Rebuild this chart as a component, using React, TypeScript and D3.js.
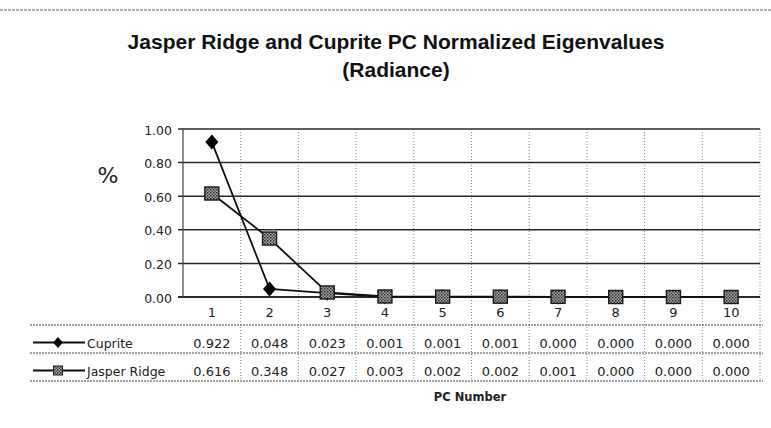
import React from 'react';
import * as d3 from 'd3';

const categories = ['1', '2', '3', '4', '5', '6', '7', '8', '9', '10'];
const cupriteValues = [0.922, 0.048, 0.023, 0.001, 0.001, 0.001, 0.0, 0.0, 0.0, 0.0];
const jasperValues = [0.616, 0.348, 0.027, 0.003, 0.002, 0.002, 0.001, 0.0, 0.0, 0.0];
const cupriteLabels = ['0.922', '0.048', '0.023', '0.001', '0.001', '0.001', '0.000', '0.000', '0.000', '0.000'];
const jasperLabels = ['0.616', '0.348', '0.027', '0.003', '0.002', '0.002', '0.001', '0.000', '0.000', '0.000'];
const yTicks = [0, 0.2, 0.4, 0.6, 0.8, 1.0];
const seriesNames = ['Cuprite', 'Jasper Ridge'];

const W = 771;
const H = 428;
const PLOT = { left: 183, right: 760, top: 129, bottom: 297 };
const TABLE = { left: 30, right: 763, header: 325, sep: 353, bottom: 381, row1: 342.5, row2: 370.5 };

const FONT = '"DejaVu Sans", Verdana, sans-serif';

export default function App() {
  const x = d3.scaleBand<string>().domain(categories).range([PLOT.left, PLOT.right]).padding(0);
  const y = d3.scaleLinear().domain([0, 1]).range([PLOT.bottom, PLOT.top]);
  const cx = (c: string) => (x(c) as number) + x.bandwidth() / 2;

  const line = d3
    .line<number>()
    .x((_, i) => cx(categories[i]))
    .y((d) => y(d));

  const diamond = (s: number) => `M0,${-s}L${s * 0.87},0L0,${s}L${-s * 0.87},0Z`;

  const boundaries = categories.slice(1).map((c) => x(c) as number);

  return (
    <svg
      width={W}
      height={H}
      style={{ position: 'absolute', left: 0, top: 0, background: '#fff' }}
      xmlns="http://www.w3.org/2000/svg"
    >
      <defs>
        <pattern id="hatch" width="3" height="3" patternUnits="userSpaceOnUse">
          <rect width="3" height="3" fill="#a8a8a8" />
          <rect width="1.5" height="1.5" fill="#2a2a2a" />
          <rect x="1.5" y="1.5" width="1.5" height="1.5" fill="#4a4a4a" />
        </pattern>
      </defs>

      {/* top scan border */}
      <line x1={0} x2={W} y1={10} y2={10} stroke="#666" strokeWidth={1} strokeDasharray="3,1" />

      {/* title */}
      <text
        x={396}
        y={49}
        textAnchor="middle"
        fontFamily='"Liberation Sans", Arial, sans-serif'
        fontWeight="bold"
        fontSize={21}
        fill="#111"
      >
        Jasper Ridge and Cuprite PC Normalized Eigenvalues
      </text>
      <text
        x={396}
        y={77}
        textAnchor="middle"
        fontFamily='"Liberation Sans", Arial, sans-serif'
        fontWeight="bold"
        fontSize={21}
        fill="#111"
      >
        (Radiance)
      </text>

      {/* % axis label */}
      <text x={108} y={183} textAnchor="middle" fontFamily={FONT} fontSize={22} fill="#222">
        %
      </text>

      {/* vertical gridlines (band boundaries), extended through the data table */}
      {boundaries.map((bx, i) => (
        <line
          key={'vg' + i}
          x1={bx}
          x2={bx}
          y1={PLOT.top}
          y2={TABLE.bottom}
          stroke="#8a8a8a"
          strokeWidth={1}
          strokeDasharray="1,2"
        />
      ))}
      <line
        x1={PLOT.right}
        x2={PLOT.right}
        y1={PLOT.top}
        y2={TABLE.bottom}
        stroke="#8a8a8a"
        strokeWidth={1}
        strokeDasharray="1,2"
      />

      {/* horizontal gridlines and y ticks */}
      {yTicks.map((t) => (
        <g key={'yt' + t}>
          <line
            x1={PLOT.left - 5}
            x2={PLOT.right}
            y1={y(t)}
            y2={y(t)}
            stroke="#2a2a2a"
            strokeWidth={t === 0 ? 2 : 1.5}
          />
          <text
            x={172}
            y={y(t) + 1}
            textAnchor="end"
            dominantBaseline="central"
            fontFamily={FONT}
            fontSize={12.5}
            fill="#222"
          >
            {t.toFixed(2)}
          </text>
        </g>
      ))}

      {/* y axis */}
      <line x1={PLOT.left} x2={PLOT.left} y1={PLOT.top} y2={PLOT.bottom} stroke="#444" strokeWidth={1.2} />

      {/* x category labels */}
      {categories.map((c) => (
        <text
          key={'xl' + c}
          x={cx(c)}
          y={312}
          textAnchor="middle"
          dominantBaseline="central"
          fontFamily={FONT}
          fontSize={13}
          fill="#222"
        >
          {c}
        </text>
      ))}

      {/* series lines */}
      <path d={line(jasperValues) || ''} fill="none" stroke="#111" strokeWidth={1.8} />
      <path d={line(cupriteValues) || ''} fill="none" stroke="#111" strokeWidth={1.8} />

      {/* markers */}
      {cupriteValues.map((v, i) => (
        <path
          key={'cm' + i}
          d={diamond(7.5)}
          transform={`translate(${cx(categories[i])},${y(v)})`}
          fill="#000"
        />
      ))}
      {jasperValues.map((v, i) => (
        <rect
          key={'jm' + i}
          x={cx(categories[i]) - 7}
          y={y(v) - 6.5}
          width={14}
          height={13}
          fill="url(#hatch)"
          stroke="#1a1a1a"
          strokeWidth={1.4}
        />
      ))}

      {/* data table lines */}
      {[TABLE.header, TABLE.sep, TABLE.bottom].map((ty, i) => (
        <line
          key={'th' + i}
          x1={TABLE.left}
          x2={TABLE.right}
          y1={ty}
          y2={ty}
          stroke="#444"
          strokeWidth={1}
          strokeDasharray="2,1"
        />
      ))}

      {/* legend keys in table */}
      <line x1={33} x2={85} y1={TABLE.row1} y2={TABLE.row1} stroke="#111" strokeWidth={1.8} />
      <path d={diamond(5.5)} transform={`translate(58,${TABLE.row1})`} fill="#000" />
      <line x1={33} x2={85} y1={TABLE.row2} y2={TABLE.row2} stroke="#111" strokeWidth={1.8} />
      <rect x={53.5} y={TABLE.row2 - 4.5} width={9} height={9} fill="url(#hatch)" stroke="#222" strokeWidth={1} />

      <text x={87} y={TABLE.row1 + 1} dominantBaseline="central" fontFamily={FONT} fontSize={12.5} fill="#222">
        {seriesNames[0]}
      </text>
      <text x={87} y={TABLE.row2 + 1} dominantBaseline="central" fontFamily={FONT} fontSize={12.5} fill="#222">
        {seriesNames[1]}
      </text>

      {cupriteLabels.map((s, i) => (
        <text
          key={'cv' + i}
          x={cx(categories[i])}
          y={TABLE.row1 + 1}
          textAnchor="middle"
          dominantBaseline="central"
          fontFamily={FONT}
          fontSize={13}
          fill="#222"
        >
          {s}
        </text>
      ))}
      {jasperLabels.map((s, i) => (
        <text
          key={'jv' + i}
          x={cx(categories[i])}
          y={TABLE.row2 + 1}
          textAnchor="middle"
          dominantBaseline="central"
          fontFamily={FONT}
          fontSize={13}
          fill="#222"
        >
          {s}
        </text>
      ))}

      {/* x axis title */}
      <text x={470} y={401} textAnchor="middle" fontFamily={FONT} fontWeight="bold" fontSize={11.5} fill="#222">
        PC Number
      </text>
    </svg>
  );
}
